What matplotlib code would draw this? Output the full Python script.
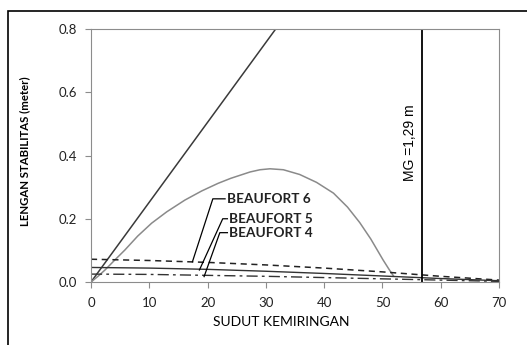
import matplotlib
matplotlib.use('Agg')
from matplotlib import pyplot as plt
from matplotlib.patches import Rectangle

# data
sudut = [0, 10, 20, 30, 40, 50, 60, 70]
beaufort6 = [0.072, 0.068, 0.062, 0.054, 0.044, 0.032, 0.018, 0.006]
beaufort5 = [0.046, 0.044, 0.040, 0.034, 0.027, 0.019, 0.011, 0.004]
beaufort4 = [0.025, 0.024, 0.021, 0.018, 0.014, 0.010, 0.006, 0.002]

gz_sudut = [0, 1.2, 2.4, 4, 5.8, 8, 10.4, 13, 16.1, 19, 21.8, 24, 27.3, 29,
            30.7, 33, 35.8, 38.7, 41.6, 44, 46.1, 48, 50.1, 51.2, 51.9]
gz_lengan = [0, 0.018, 0.038, 0.068, 0.101, 0.145, 0.186, 0.222, 0.259, 0.288,
             0.312, 0.328, 0.348, 0.355, 0.358, 0.355, 0.34, 0.315, 0.281,
             0.237, 0.188, 0.136, 0.07, 0.038, 0.019]

gm_sudut = [0, 40]
gm_lengan = [0, 1.01]
mg_sudut = 56.8

label_names = ['BEAUFORT 6', 'BEAUFORT 5', 'BEAUFORT 4']
label_pos = [(23.3, 0.263), (23.7, 0.2), (23.7, 0.155)]
label_elbow = [(20.9, 0.263), (22.6, 0.2), (22.1, 0.156)]
label_point = [(17.4, 0.064), (18.6, 0.038), (19.4, 0.017)]

plt.rcParams['font.family'] = ['Lato', 'DejaVu Sans']
plt.rcParams['font.size'] = 9

fig = plt.figure(figsize=(5.27, 3.45), dpi=100)
fig.patches.append(Rectangle((8 / 527, -0.5), 2, 1.5 - 11 / 345,
                             transform=fig.transFigure, fill=False,
                             edgecolor='black', linewidth=1.2))
ax = fig.add_axes([0.1727, 0.1826, 0.7742, 0.7333])

ax.plot(gm_sudut, gm_lengan, color='#3a3a3a', linewidth=1.1)
ax.plot(gz_sudut, gz_lengan, color='#8a8a8a', linewidth=1.1)
ax.plot(sudut, beaufort6, color='#222222', linewidth=1.1, linestyle=(0, (4, 3)))
ax.plot(sudut, beaufort5, color='#333333', linewidth=1.0)
ax.plot(sudut, beaufort4, color='#333333', linewidth=1.0,
        linestyle=(0, (8, 3, 2, 3)))
ax.axvline(mg_sudut, color='black', linewidth=1.3)

ax.text(mg_sudut - 2.0, 0.44, 'MG =1,29 m', rotation=90, ha='center',
        va='center', fontsize=10, family=['Liberation Sans', 'DejaVu Sans'])

for name, pos, elbow, point in zip(label_names, label_pos, label_elbow, label_point):
    ax.plot([point[0], elbow[0], pos[0] - 0.3], [point[1], elbow[1], elbow[1]],
            color='black', linewidth=0.9)
    ax.text(pos[0], pos[1], name, ha='left', va='center', fontsize=9.8,
            fontweight='bold', color='#222222')

ax.set_xlim(0, 70)
ax.set_ylim(0, 0.8)
ax.set_xticks(sudut)
ax.set_yticks([0, 0.2, 0.4, 0.6, 0.8])
ax.set_yticklabels(['0.0', '0.2', '0.4', '0.6', '0.8'])
for s in ax.spines.values():
    s.set_color('#8c8c8c')
ax.tick_params(direction='out', length=4, color='#8c8c8c', labelsize=9.5,
               labelcolor='#222222')
ax.tick_params(axis='x', pad=7)
ax.tick_params(axis='y', pad=6)
ax.set_xlabel('SUDUT KEMIRINGAN', fontsize=10)
ax.set_ylabel('LENGAN STABILITAS (meter)', fontsize=8.2, fontweight='bold',
              family=['DejaVu Sans Condensed', 'Lato'])
ax.xaxis.set_label_coords(0.466, -0.134)
ax.yaxis.set_label_coords(-0.15, 0.518)

plt.savefig('out.png', dpi=100)
